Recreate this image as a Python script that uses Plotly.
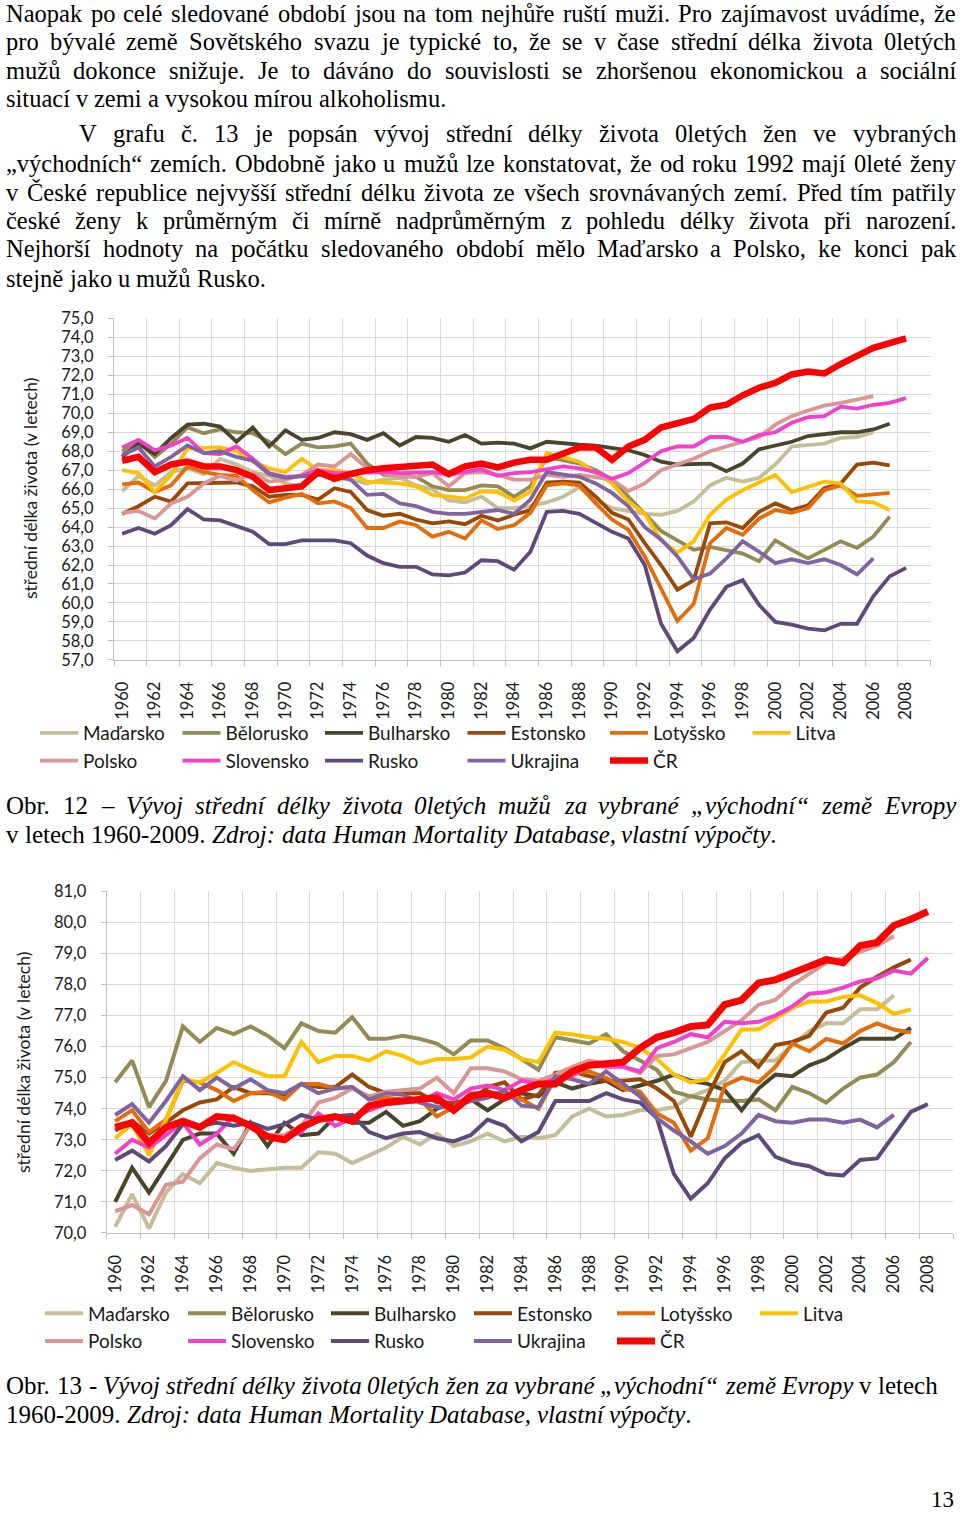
import unicodedata
import plotly.graph_objects as go

W, H = 960, 1513
years = list(range(1960, 2010))
tick_years = list(range(1960, 2009, 2))

countries = ["Maďarsko", "Bělorusko", "Bulharsko", "Estonsko", "Lotyšsko", "Litva",
             "Polsko", "Slovensko", "Rusko", "Ukrajina", "ČR"]
colors = ["#c4bd97", "#948a54", "#4a452a", "#984807", "#e46c0a", "#ffc000",
          "#d99694", "#f23fce", "#5f497a", "#8064a2", "#ff0000"]

# ---------------- Obr. 12 : men, values from 1960 onward ----------------
men_madarsko = [65.9, 66.7, 66.2, 66.9, 67.1, 66.8, 67.6, 67.3, 66.9, 66.7,
                66.3, 66.1, 66.8, 66.6, 66.5, 66.3, 66.5, 66.6, 66.2, 66.0,
                65.4, 65.3, 65.6, 65.0, 65.0, 65.1, 65.3, 65.6, 66.1, 65.4,
                65.0, 64.85, 64.7, 64.65, 64.85, 65.35, 66.2, 66.6, 66.4, 66.6,
                67.3, 68.25, 68.35, 68.4, 68.7, 68.75, 69.0]
men_belorusko = [68.0, 68.5, 67.7, 68.4, 69.25, 68.95, 69.15, 69.0, 68.95, 68.5,
                 67.85, 68.4, 68.2, 68.25, 68.4, 67.35, 66.75, 66.75, 66.65, 66.15,
                 65.95, 65.95, 66.2, 66.15, 65.6, 66.15, 67.7, 67.55, 67.35, 67.0,
                 66.5, 65.6, 64.7, 63.8, 63.3, 62.8, 62.95, 62.8, 62.6, 62.2,
                 63.3, 62.8, 62.35, 62.8, 63.25, 62.9, 63.5, 64.55]
men_bulharsko = [67.7, 68.4, 67.85, 68.7, 69.4, 69.45, 69.3, 68.5, 69.25, 68.25,
                 69.1, 68.6, 68.7, 69.0, 68.9, 68.6, 68.95, 68.3, 68.75, 68.7,
                 68.5, 68.85, 68.4, 68.45, 68.4, 68.15, 68.5, 68.4, 68.35, 68.3,
                 68.15, 68.05, 67.8, 67.45, 67.3, 67.35, 67.35, 66.95, 67.35, 68.1,
                 68.3, 68.5, 68.8, 68.9, 69.0, 69.0, 69.15, 69.45]
men_estonsko = [64.7, 65.1, 65.6, 65.35, 66.3, 66.3, 66.3, 66.35, 66.15, 65.6,
                65.7, 65.7, 65.45, 66.05, 65.85, 64.9, 64.6, 64.7, 64.4, 64.2,
                64.3, 64.15, 64.6, 64.35, 64.65, 64.9, 66.35, 66.4, 66.35, 65.6,
                64.75, 64.4, 63.15, 62.0, 60.7, 61.2, 64.2, 64.25, 63.95, 64.8,
                65.25, 64.9, 65.15, 66.05, 66.3, 67.3, 67.4, 67.25]
men_lotyssko = [66.25, 66.35, 65.85, 66.2, 67.2, 66.9, 66.75, 66.7, 65.95, 65.3,
                65.55, 65.75, 65.25, 65.35, 65.0, 63.95, 63.95, 64.3, 64.1, 63.5,
                63.75, 63.4, 64.35, 63.9, 64.1, 64.75, 66.2, 66.3, 66.2, 65.25,
                64.4, 63.85, 62.45, 60.7, 59.05, 59.95, 63.15, 63.95, 63.6, 64.45,
                64.9, 64.75, 65.0, 65.95, 66.2, 65.65, 65.7, 65.8]
men_litva = [67.0, 66.85, 65.85, 66.75, 68.15, 68.2, 68.2, 68.0, 67.45, 67.1,
             66.9, 67.6, 67.0, 67.0, 66.85, 66.4, 66.35, 66.3, 66.15, 65.7,
             65.6, 65.5, 65.9, 65.85, 65.4, 65.85, 67.9, 67.7, 67.45, 66.85,
             66.3, 65.35, 64.7, 63.3, 62.65, 63.25, 64.65, 65.45, 65.95, 66.35,
             66.75, 65.85, 66.15, 66.4, 66.3, 65.35, 65.3, 64.9]
men_polsko = [64.75, 64.85, 64.45, 65.25, 65.6, 66.3, 66.7, 66.45, 66.85, 66.4,
              66.5, 66.75, 67.3, 67.2, 67.85, 67.1, 66.85, 66.65, 66.65, 66.85,
              66.15, 66.85, 66.9, 66.75, 66.5, 66.5, 66.75, 66.65, 66.75, 66.6,
              66.5, 65.9, 66.3, 67.0, 67.3, 67.6, 68.0, 68.25, 68.5, 68.75,
              69.4, 69.85, 70.15, 70.4, 70.55, 70.75, 70.9]
men_slovensko = [68.2, 68.6, 68.05, 68.3, 68.7, 67.9, 67.85, 68.25, 67.6, 66.85,
                 66.65, 66.7, 67.0, 66.85, 66.85, 66.9, 66.9, 66.85, 66.85, 66.9,
                 66.75, 66.9, 67.05, 66.7, 66.85, 66.9, 67.05, 67.2, 67.1, 66.9,
                 66.55, 66.85, 67.4, 68.0, 68.25, 68.25, 68.75, 68.75, 68.5, 68.85,
                 69.0, 69.5, 69.8, 69.85, 70.35, 70.25, 70.45, 70.55, 70.8]
men_rusko = [63.65, 63.95, 63.65, 64.1, 64.95, 64.4, 64.35, 64.05, 63.75, 63.1,
             63.1, 63.3, 63.3, 63.3, 63.15, 62.5, 62.1, 61.9, 61.9, 61.5,
             61.45, 61.6, 62.25, 62.2, 61.75, 62.7, 64.8, 64.85, 64.7, 64.2,
             63.75, 63.4, 62.0, 58.9, 57.45, 58.15, 59.65, 60.85, 61.2, 59.9,
             59.0, 58.85, 58.65, 58.55, 58.9, 58.9, 60.35, 61.4, 61.85]
men_ukrajina = [67.8, 68.2, 67.2, 67.7, 68.3, 67.9, 68.0, 67.7, 67.5, 66.8,
                66.6, 66.7, 66.75, 66.7, 66.5, 65.7, 65.75, 65.25, 65.1, 64.8,
                64.7, 64.7, 64.8, 64.9, 64.7, 65.45, 66.9, 66.75, 66.65, 66.3,
                65.8, 65.1, 64.0, 63.35, 62.45, 61.25, 61.55, 62.35, 63.25, 62.7,
                62.1, 62.3, 62.1, 62.3, 62.0, 61.5, 62.35]
men_cr = [67.5, 67.7, 66.9, 67.3, 67.45, 67.2, 67.2, 67.0, 66.65, 65.95,
          66.05, 66.15, 66.9, 66.55, 66.8, 67.0, 67.1, 67.15, 67.2, 67.3,
          66.8, 67.2, 67.35, 67.15, 67.4, 67.55, 67.55, 67.9, 68.2, 68.2,
          67.55, 68.25, 68.6, 69.25, 69.45, 69.7, 70.3, 70.45, 70.95, 71.35,
          71.6, 72.05, 72.2, 72.1, 72.6, 73.0, 73.45, 73.7, 73.95]

# ---------------- Obr. 13 : women, values from 1960 onward ----------------
women_madarsko = [70.2, 71.25, 70.15, 71.3, 71.9, 71.6, 72.25, 72.1, 72.0, 72.05,
                  72.1, 72.1, 72.6, 72.55, 72.25, 72.5, 72.75, 73.1, 72.85, 73.2,
                  72.8, 72.95, 73.2, 72.95, 73.1, 73.05, 73.15, 73.75, 74.0, 73.75,
                  73.8, 73.95, 73.95, 74.05, 74.4, 74.6, 74.9, 75.5, 75.55, 75.55,
                  76.05, 76.5, 76.75, 76.75, 77.2, 77.2, 77.65]
women_belorusko = [74.85, 75.55, 74.05, 74.9, 76.65, 76.15, 76.6, 76.4, 76.65, 76.35,
                   75.95, 76.75, 76.5, 76.45, 76.95, 76.25, 76.25, 76.35, 76.25, 76.1,
                   75.75, 76.2, 76.2, 75.95, 75.6, 75.25, 76.3, 76.2, 76.1, 76.4,
                   75.85, 75.55, 75.25, 74.55, 74.4, 74.3, 74.25, 74.25, 74.3, 73.95,
                   74.7, 74.5, 74.2, 74.65, 75.0, 75.1, 75.5, 76.15]
women_bulharsko = [71.0, 72.1, 71.3, 72.15, 73.0, 73.2, 73.2, 72.55, 73.55, 72.8,
                   73.55, 73.15, 73.2, 73.75, 73.55, 73.55, 73.9, 73.45, 73.6, 74.0,
                   74.2, 74.3, 73.95, 74.3, 74.5, 74.4, 74.85, 74.65, 74.8, 74.9,
                   74.6, 74.75, 74.9, 75.1, 74.9, 74.8, 74.6, 73.95, 74.65, 75.1,
                   75.05, 75.4, 75.6, 75.95, 76.25, 76.25, 76.25, 76.6]
women_estonsko = [73.3, 73.6, 73.2, 73.55, 73.95, 74.2, 74.3, 74.7, 74.5, 74.5,
                  74.45, 74.8, 74.7, 74.7, 75.1, 74.7, 74.5, 74.5, 74.5, 74.2,
                  74.2, 74.25, 74.7, 74.85, 74.3, 74.45, 75.15, 75.2, 75.05, 74.9,
                  74.9, 74.95, 74.65, 74.25, 73.1, 74.4, 75.5, 75.85, 75.35, 76.05,
                  76.15, 76.35, 77.1, 77.25, 77.9, 78.25, 78.55, 78.8]
women_lotyssko = [73.6, 73.95, 73.25, 73.65, 74.9, 74.85, 74.6, 74.25, 74.5, 74.55,
                  74.3, 74.8, 74.8, 74.65, 74.7, 74.3, 74.35, 74.3, 74.3, 73.75,
                  74.05, 74.5, 74.5, 74.5, 74.3, 74.0, 75.0, 75.15, 75.2, 75.0,
                  74.65, 74.55, 73.85, 73.55, 72.65, 73.05, 74.75, 75.0, 74.85, 75.35,
                  76.1, 75.85, 76.25, 76.1, 76.5, 76.75, 76.55, 76.45]
women_litva = [73.05, 73.5, 72.5, 73.65, 74.95, 74.85, 75.15, 75.5, 75.25, 75.05,
               75.05, 76.15, 75.5, 75.7, 75.7, 75.55, 75.85, 75.7, 75.45, 75.6,
               75.6, 75.65, 76.0, 75.9, 75.6, 75.5, 76.45, 76.4, 76.3, 76.25,
               76.15, 75.95, 75.6, 75.1, 74.85, 74.95, 75.75, 76.55, 76.55, 76.9,
               77.25, 77.45, 77.45, 77.6, 77.65, 77.4, 77.05, 77.2]
women_polsko = [70.7, 70.9, 70.6, 71.55, 71.65, 72.4, 72.85, 72.7, 73.45, 73.15,
                73.15, 73.45, 74.2, 74.35, 74.65, 74.4, 74.55, 74.6, 74.65, 75.0,
                74.5, 75.3, 75.3, 75.2, 74.95, 74.9, 75.1, 75.35, 75.55, 75.45,
                75.35, 75.15, 75.7, 75.75, 75.95, 76.15, 76.5, 76.85, 77.35, 77.5,
                78.0, 78.35, 78.7, 78.85, 79.05, 79.25, 79.55]
women_slovensko = [72.55, 73.0, 72.75, 73.15, 73.55, 72.85, 73.2, 73.75, 73.45, 73.15,
                   73.05, 73.25, 73.85, 73.45, 73.7, 73.95, 74.15, 74.2, 74.25, 74.5,
                   74.3, 74.65, 74.75, 74.6, 74.9, 74.8, 74.95, 75.05, 75.4, 75.35,
                   75.35, 75.2, 75.95, 76.15, 76.4, 76.3, 76.8, 76.75, 76.8, 77.0,
                   77.3, 77.7, 77.75, 77.9, 78.1, 78.2, 78.45, 78.35, 78.85]
women_rusko = [72.35, 72.65, 72.3, 72.8, 73.5, 73.45, 73.55, 73.45, 73.55, 73.35,
               73.5, 73.8, 73.65, 73.75, 73.8, 73.25, 73.05, 73.2, 73.25, 73.05,
               72.95, 73.15, 73.65, 73.45, 72.95, 73.25, 74.25, 74.25, 74.25, 74.5,
               74.3, 74.2, 73.7, 71.9, 71.1, 71.6, 72.4, 72.9, 73.15, 72.45,
               72.25, 72.15, 71.9, 71.85, 72.35, 72.4, 73.15, 73.9, 74.15]
women_ukrajina = [73.8, 74.15, 73.55, 74.25, 75.05, 74.6, 75.0, 74.65, 74.95, 74.6,
                  74.5, 74.8, 74.5, 74.65, 74.7, 74.3, 74.5, 74.45, 74.2, 74.05,
                  74.05, 74.25, 74.35, 74.6, 74.1, 74.05, 75.05, 74.95, 74.8, 75.2,
                  74.8, 74.4, 73.7, 73.3, 72.95, 72.55, 72.8, 73.2, 73.8, 73.6,
                  73.55, 73.65, 73.65, 73.55, 73.65, 73.4, 73.8]
women_cr = [73.4, 73.55, 72.9, 73.4, 73.6, 73.4, 73.75, 73.7, 73.45, 73.1,
            73.0, 73.4, 73.65, 73.75, 73.6, 74.1, 74.2, 74.25, 74.25, 74.35,
            73.95, 74.4, 74.5, 74.35, 74.6, 74.8, 74.8, 75.2, 75.4, 75.45,
            75.5, 75.95, 76.3, 76.45, 76.65, 76.7, 77.35, 77.5, 78.05, 78.15,
            78.35, 78.6, 78.8, 78.7, 79.25, 79.35, 79.9, 80.1, 80.35]

men = [men_madarsko, men_belorusko, men_bulharsko, men_estonsko, men_lotyssko, men_litva,
       men_polsko, men_slovensko, men_rusko, men_ukrajina, men_cr]
women = [women_madarsko, women_belorusko, women_bulharsko, women_estonsko, women_lotyssko,
         women_litva, women_polsko, women_slovensko, women_rusko, women_ukrajina, women_cr]

y_title = "střední délka života (v letech)"

body_lines = [
    "Naopak po celé sledované období jsou na tom nejhůře ruští muži. Pro zajímavost uvádíme, že",
    "pro bývalé země Sovětského svazu je typické to, že se v čase střední délka života 0letých",
    "mužů dokonce snižuje. Je to dáváno do souvislosti se zhoršenou ekonomickou a sociální",
    "situací v zemi a vysokou mírou alkoholismu.",
    "V grafu č. 13 je popsán vývoj střední délky života 0letých žen ve vybraných",
    "„východních“ zemích. Obdobně jako u mužů lze konstatovat, že od roku 1992 mají 0leté ženy",
    "v České republice nejvyšší střední délku života ze všech srovnávaných zemí. Před tím patřily",
    "české ženy k průměrným či mírně nadprůměrným z pohledu délky života při narození.",
    "Nejhorší hodnoty na počátku sledovaného období mělo Maďarsko a Polsko, ke konci pak",
    "stejně jako u mužů Rusko.",
]
caption12 = [
    "Obr. 12 – *Vývoj střední délky života 0letých mužů za vybrané „východní“ země Evropy*",
    "v letech 1960-2009. *Zdroj: data Human Mortality Database, vlastní výpočty*.",
]
caption13 = [
    "Obr. 13 - *Vývoj střední délky života 0letých žen za vybrané „východní“ země Evropy* v letech",
    "1960-2009. *Zdroj: data Human Mortality Database, vlastní výpočty*.",
]
page_number = "13"

# ---------------- text metrics (Times / Liberation Serif, units per 1000) ----------------
ROMAN = dict(zip("abcdefghijklmnopqrstuvwxyz",
                 [444, 500, 444, 500, 444, 333, 500, 500, 278, 278, 500, 278, 778, 500, 500,
                  500, 500, 333, 389, 278, 500, 500, 722, 500, 500, 444]))
ROMAN.update(dict(zip("ABCDEFGHIJKLMNOPQRSTUVWXYZ",
                      [722, 667, 667, 722, 611, 556, 722, 722, 333, 389, 722, 611, 889, 722, 722,
                       556, 722, 667, 556, 611, 722, 722, 944, 722, 722, 611])))
ROMAN.update({" ": 250, ",": 250, ".": 250, "-": 333, "–": 500, "„": 444, "“": 444,
              ":": 278, "(": 333, ")": 333, "ď": 588, "ť": 367})
ITALIC = dict(zip("abcdefghijklmnopqrstuvwxyz",
                  [500, 500, 444, 500, 444, 278, 500, 500, 278, 278, 444, 278, 722, 500, 500,
                   500, 500, 389, 389, 278, 500, 444, 667, 444, 444, 389]))
ITALIC.update(dict(zip("ABCDEFGHIJKLMNOPQRSTUVWXYZ",
                       [611, 611, 667, 722, 611, 611, 722, 722, 333, 444, 667, 556, 833, 667, 722,
                        611, 722, 611, 500, 556, 722, 611, 833, 611, 556, 556])))
ITALIC.update({" ": 250, ",": 250, ".": 250, "-": 333, "–": 500, "„": 556, "“": 556,
               ":": 333, "(": 333, ")": 333, "ď": 600, "ť": 340})


def char_w(ch, italic):
    table = ITALIC if italic else ROMAN
    if ch in table:
        return table[ch]
    if ch.isdigit():
        return 500
    base = unicodedata.normalize("NFD", ch)[0]
    return table.get(base, 500)


annotations = []


def add_line(text, x0, x1, ypx, size, justify, state):
    words = []
    for tok in text.split(" "):
        segs, cur = [], ""
        for ch in tok:
            if ch == "*":
                if cur:
                    segs.append((cur, state[0]))
                    cur = ""
                state[0] = not state[0]
            else:
                cur += ch
        if cur:
            segs.append((cur, state[0]))
        wdt = sum(char_w(c, it) for s, it in segs for c in s) * size / 1000.0
        html = "".join(("<i>%s</i>" % s) if it else s for s, it in segs)
        words.append((html, wdt))
    total = sum(w for _, w in words)
    n = len(words)
    gap = (x1 - x0 - total) / (n - 1) if (justify and n > 1) else 0.25 * size
    x = x0
    for html, wdt in words:
        annotations.append(dict(
            x=x / W, y=1 - ypx / H, xref="paper", yref="paper", text=html,
            showarrow=False, xanchor="left", yanchor="middle", borderpad=0,
            font=dict(family="Liberation Serif", size=size, color="#000000")))
        x += wdt + gap


BODY_SIZE = 24.5
CAP_SIZE = 25
body_y = [13, 41.5, 70, 98.5, 133.5, 163, 192, 220.5, 249, 278]
body_x0 = [5, 5, 5, 5, 78, 5, 5, 5, 5, 5]
body_just = [True, True, True, False, True, True, True, True, True, False]
st = [False]
for t, yy, xx, jj in zip(body_lines, body_y, body_x0, body_just):
    add_line(t, xx, 955, yy, BODY_SIZE, jj, st)

st = [False]
add_line(caption12[0], 5, 955, 806, CAP_SIZE, True, st)
add_line(caption12[1], 5, 955, 834, CAP_SIZE, False, st)
st = [False]
add_line(caption13[0], 5, 955, 1385, CAP_SIZE, False, st)
add_line(caption13[1], 5, 955, 1414, CAP_SIZE, False, st)

annotations.append(dict(x=955 / W, y=1 - 1499 / H, xref="paper", yref="paper",
                        text=page_number, showarrow=False, xanchor="right", yanchor="middle",
                        borderpad=0,
                        font=dict(family="Liberation Serif", size=23, color="#000000")))

# y-axis titles
annotations.append(dict(x=30 / W, y=1 - 489 / H, xref="paper", yref="paper", text=y_title,
                        showarrow=False, textangle=-90, xanchor="center", yanchor="middle",
                        font=dict(family="Lato", size=17.5, color="#1a1a1a")))
annotations.append(dict(x=23 / W, y=1 - 1063 / H, xref="paper", yref="paper", text=y_title,
                        showarrow=False, textangle=-90, xanchor="center", yanchor="middle",
                        font=dict(family="Lato", size=17.5, color="#1a1a1a")))

# ---------------- charts ----------------
fig = go.Figure()


def pad(v):
    return list(v) + [None] * (len(years) - len(v))


for name, col, vals in zip(countries, colors, men):
    fig.add_trace(go.Scatter(
        x=years, y=pad(vals), mode="lines", name=name, legend="legend",
        line=dict(color=col, width=6.5 if name == "ČR" else 3.8),
        xaxis="x", yaxis="y", connectgaps=False))
for name, col, vals in zip(countries, colors, women):
    fig.add_trace(go.Scatter(
        x=years, y=pad(vals), mode="lines", name=name, legend="legend2",
        line=dict(color=col, width=7 if name == "ČR" else 4),
        xaxis="x2", yaxis="y2", connectgaps=False))

bounds = [1959.5 + 2 * k for k in range(26)]
tickfont = dict(family="Lato", size=16.5, color="#1a1a1a")
GRID = "#d9d9d9"
AX = "#bfbfbf"


def xaxis_cfg(x0, x1, anchor):
    return dict(domain=[x0 / W, x1 / W], anchor=anchor, range=[1959.5, 2009.5],
                tickmode="array", tickvals=tick_years, ticktext=[str(v) for v in tick_years],
                tickangle=-90, tickfont=tickfont, ticks="", showgrid=False, zeroline=False,
                showline=True, linecolor=AX, linewidth=1, ticklabelstandoff=14,
                minor=dict(tickmode="array", tickvals=bounds, ticks="outside", ticklen=5,
                           tickcolor=AX, showgrid=True, gridcolor=GRID, gridwidth=1))


def yaxis_cfg(ybot, ytop, lo, hi, anchor):
    return dict(domain=[1 - ybot / H, 1 - ytop / H], anchor=anchor, range=[lo - 0.01, hi + 0.01],
                tickmode="linear", tick0=lo, dtick=1, tickformat=".1f", tickfont=tickfont,
                ticks="outside", ticklen=5, tickcolor=AX, showgrid=True, gridcolor=GRID,
                gridwidth=1, zeroline=False, showline=True, linecolor=AX, linewidth=1,
                ticklabelstandoff=11)


legend_common = dict(orientation="h", xanchor="left", yanchor="top", bgcolor="rgba(0,0,0,0)",
                     font=dict(family="Lato", size=19, color="#1a1a1a"),
                     entrywidthmode="pixels", traceorder="normal",
                     tracegroupgap=0, itemwidth=38)

fig.update_layout(
    width=W, height=H, margin=dict(l=0, r=0, t=0, b=0, autoexpand=False),
    paper_bgcolor="white", plot_bgcolor="white", separators=", ",
    showlegend=True,
    xaxis=xaxis_cfg(114, 930.5, "y"),
    yaxis=yaxis_cfg(660, 318.3, 57, 75, "x"),
    xaxis2=xaxis_cfg(106.7, 953.2, "y2"),
    yaxis2=yaxis_cfg(1233.3, 891, 70, 81, "x2"),
    legend=dict(x=35 / W, y=1 - 714 / H, entrywidth=89.5, **legend_common),
    legend2=dict(x=40 / W, y=1 - 1294.5 / H, entrywidth=90, **legend_common),
    annotations=annotations,
)

fig.write_html("out.html", config={"displayModeBar": False},
               post_script="document.body.style.margin='0';document.body.style.overflow='hidden';")
